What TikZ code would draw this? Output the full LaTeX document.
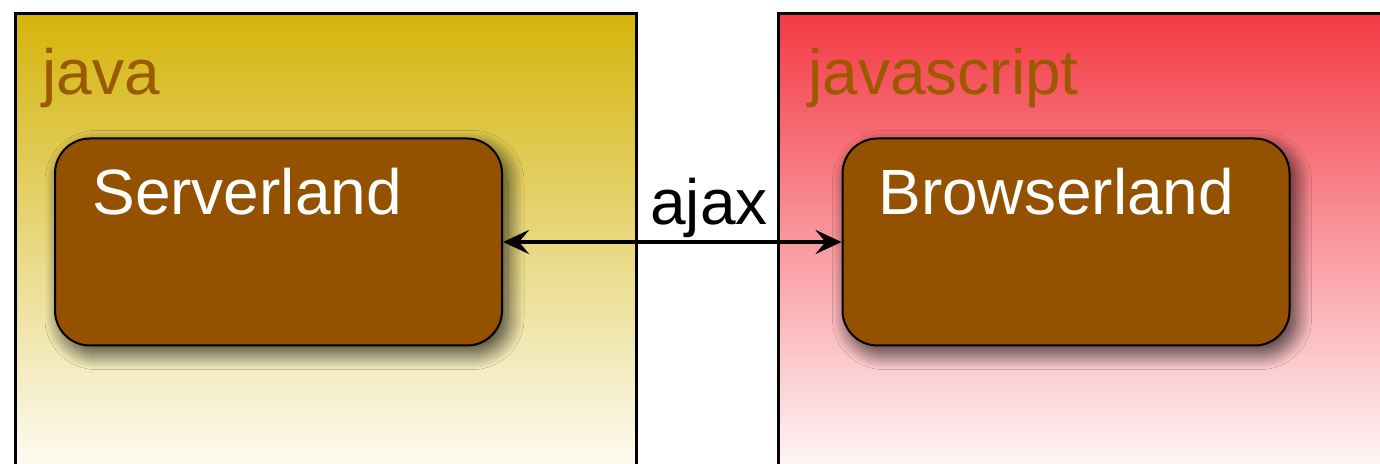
\documentclass[tikz,border=0pt]{standalone}
\usepackage{fontspec}
\setmainfont{Liberation Sans}
\usetikzlibrary{arrows.meta,shadows.blur}
\definecolor{goldtop}{RGB}{212,180,10}
\definecolor{redtop}{RGB}{244,58,68}
\definecolor{brownbox}{RGB}{148,82,0}
\definecolor{labelbrown}{RGB}{155,90,0}
\begin{document}
\begin{tikzpicture}[x=0.5pt,y=-0.5pt,
 panel/.style={draw=black,line width=1.5pt},
 land/.style={draw=black,line width=1pt,fill=brownbox,rounded corners=17.5pt,minimum width=223.5pt,minimum height=103.5pt,inner sep=0pt,blur shadow={shadow xshift=3pt,shadow yshift=-4pt,shadow blur radius=8pt,shadow blur steps=25,shadow opacity=75}},
 big/.style={font=\fontsize{32}{38}\selectfont,inner sep=0pt,anchor=base west},
 link/.style={<->,line width=2pt,>={Stealth[length=13pt,width=12pt,inset=5pt]}}]
\useasboundingbox (0,0) rectangle (1380,464);
\clip (0,0) rectangle (1380,464);
\path[panel,top color=goldtop,bottom color=white] (15,14) rectangle (636,490);
\path[panel,top color=redtop,bottom color=white] (778,14) rectangle (1400,490);
\node[big,text=labelbrown] (javat) at (42,95) {java};
\node[big,text=labelbrown] (jst) at (808,95) {javascript};
\node[land] (sv) at (278.5,242) {};
\node[land] (bv) at (1066,242) {};
\node[big,text=white] (svt) at (92,215) {Serverland};
\node[big,text=white] (bvt) at (878,215) {Browserland};
\node[big,text=black] (aj) at (650,225) {ajax};
\draw[link] (sv.east) -- (bv.west);
\end{tikzpicture}
\end{document}
